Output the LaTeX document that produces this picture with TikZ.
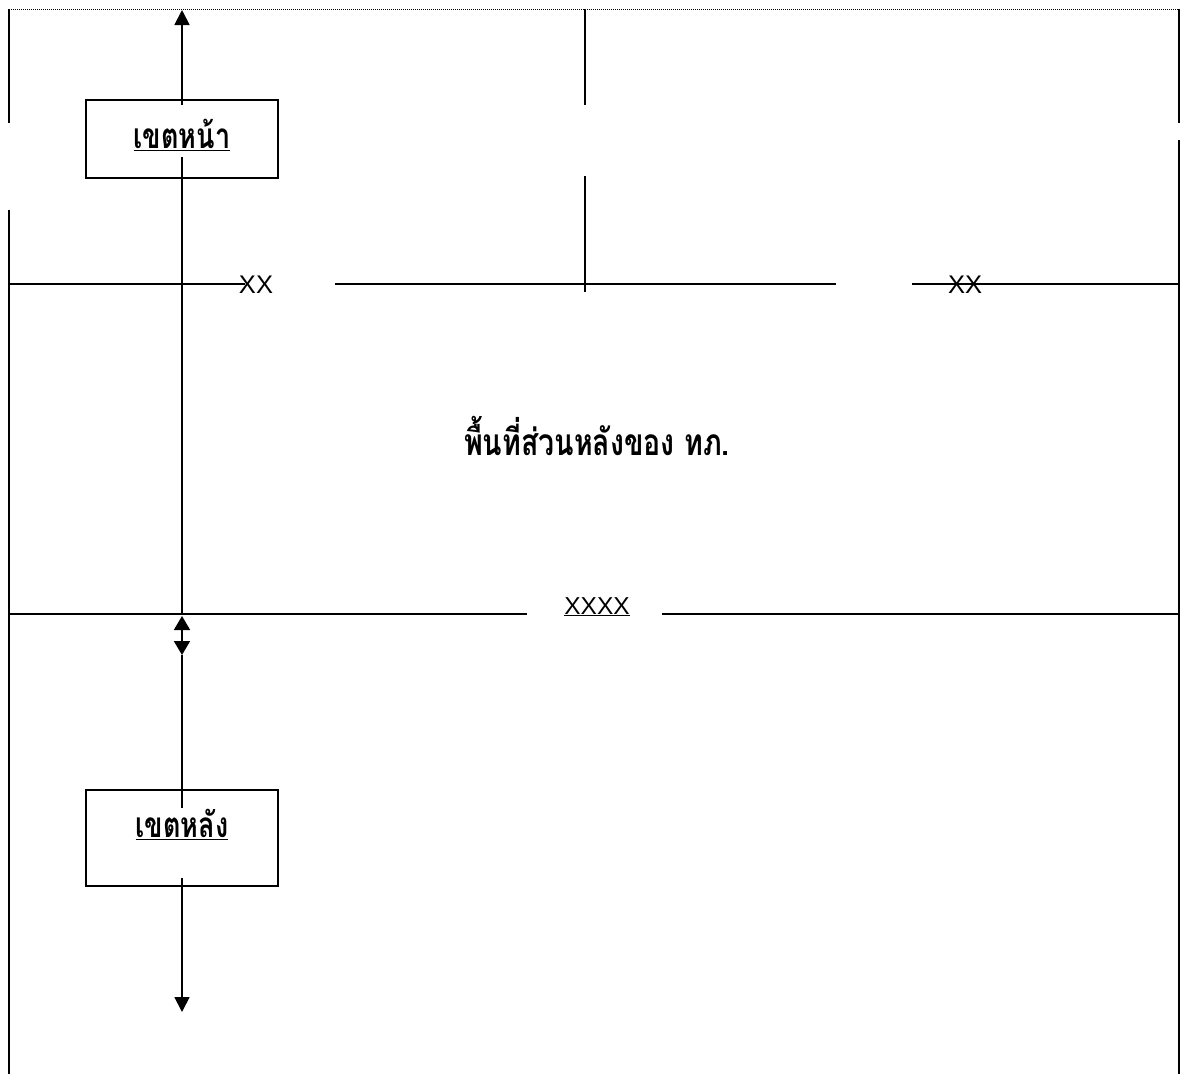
\documentclass[tikz,border=0pt]{standalone}
\usepackage{fontspec}
\setmainfont{Liberation Sans}
\newfontfamily\thaifont[Script=Thai]{Loma}
\usetikzlibrary{arrows.meta}
\newcommand{\tallthai}[1]{\scalebox{1}[1.3]{#1}}
\tikzset{
  ln/.style={line width=1.8pt, line cap=butt},
  tip/.style={ln, -{Triangle[length=15pt,width=15pt]}},
  dtip/.style={ln, {Triangle[length=14pt,width=16pt]}-{Triangle[length=14pt,width=16pt]}},
  zonebox/.style={draw, line width=1.8pt, minimum width=192pt, inner sep=0pt},
  thlabel/.style={inner sep=0pt, font=\thaifont\bfseries\fontsize{27}{31}\selectfont},
  xlabel/.style={inner sep=0pt, font=\fontsize{25.5}{30}\selectfont}
}
\begin{document}
\begin{tikzpicture}[x=1pt,y=-1pt]
\useasboundingbox (0,0) rectangle (1181,1074);
% frame
\draw[line width=0.8pt, dash pattern=on 1pt off 1pt] (9,9) -- (1181,9);
\coordinate (L1a) at (9,9);   \coordinate (L1b) at (9,123);
\coordinate (L2a) at (9,210); \coordinate (L2b) at (9,1074);
\coordinate (R1a) at (1179,9);   \coordinate (R1b) at (1179,123);
\coordinate (R2a) at (1179,140); \coordinate (R2b) at (1179,1074);
\coordinate (C1a) at (585,9);   \coordinate (C1b) at (585,105);
\coordinate (C2a) at (585,176); \coordinate (C2b) at (585,292);
\draw[ln] (L1a) -- (L1b);
\draw[ln] (L2a) -- (L2b);
\draw[ln] (R1a) -- (R1b);
\draw[ln] (R2a) -- (R2b);
\draw[ln] (C1a) -- (C1b);
\draw[ln] (C2a) -- (C2b);
% horizontal line at 284
\coordinate (H1a) at (9,284);   \coordinate (H1b) at (245,284);
\coordinate (H1c) at (335,284); \coordinate (H1d) at (836,284);
\coordinate (H1e) at (912,284); \coordinate (H1f) at (1179,284);
\draw[ln] (H1a) -- (H1b);
\draw[ln] (H1c) -- (H1d);
\draw[ln] (H1e) -- (H1f);
\node[xlabel, anchor=base] (xx1) at (256,293) {XX};
\node[xlabel, anchor=base] (xx2) at (965,293) {XX};
% horizontal line at 614
\coordinate (H2a) at (9,614);   \coordinate (H2b) at (527,614);
\coordinate (H2c) at (662,614); \coordinate (H2d) at (1179,614);
\draw[ln] (H2a) -- (H2b);
\draw[ln] (H2c) -- (H2d);
\node[xlabel, font=\fontsize{24.5}{29}\selectfont, anchor=base] (xxxx) at (597,614) {\underline{XXXX}};
% centre text
\node[thlabel, font=\thaifont\bfseries\fontsize{28.5}{32}\selectfont, anchor=base] (area) at (597,455) {\tallthai{พื้นที่ส่วนหลังของ ทภ.}};
% boxes
\node[zonebox, minimum height=78pt] (front) at (182,139) {};
\node[thlabel, anchor=base] (fronttxt) at (182,148) {\tallthai{\underline{เขตหน้า}}};
\node[zonebox, minimum height=96pt] (rear) at (182,838) {};
\node[thlabel, anchor=base] (reartxt) at (182,837) {\tallthai{\underline{เขตหลัง}}};
% arrows
\coordinate (topTip) at (182,10);
\coordinate (fIn) at (182,105);
\coordinate (fOut) at (182,157);
\coordinate (hJoin) at (182,614);
\coordinate (dUp) at (182,616);
\coordinate (dDn) at (182,655);
\coordinate (rIn) at (182,808);
\coordinate (rOut) at (182,878);
\coordinate (botTip) at (182,1012);
\draw[tip] (fIn) -- (topTip);
\draw[ln] (fOut) -- (hJoin);
\draw[dtip] (dDn) -- (dUp);
\draw[ln] (dDn) -- (rIn);
\draw[tip] (rOut) -- (botTip);
\end{tikzpicture}
\end{document}
